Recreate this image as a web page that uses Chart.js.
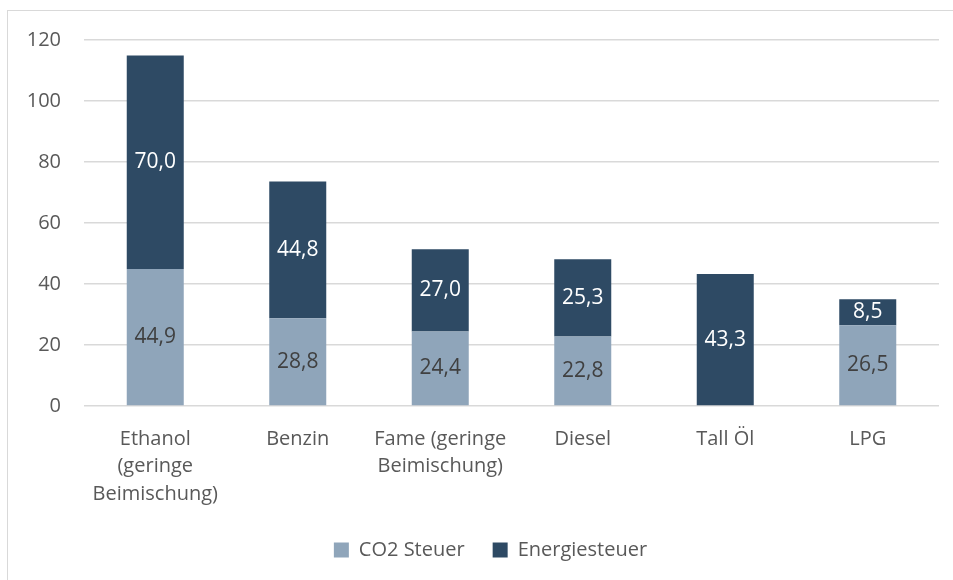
<!DOCTYPE html>
<html>
<head>
<meta charset="utf-8">
<script src="https://cdn.jsdelivr.net/npm/chart.js@4/dist/chart.umd.min.js"></script>
<style>
  html, body { margin: 0; padding: 0; background: #fff; overflow: hidden; }
  #frame { position: absolute; left: 7px; top: 10px; width: 980px; height: 620px; border: 1px solid #d9d9d9; }
  #wrap { position: absolute; left: 0; top: 0; width: 953px; height: 580px; }
</style>
</head>
<body>
<div id="frame"></div>
<div id="wrap"><canvas id="chart"></canvas></div>
<script>
const categories = [
    ['Ethanol', '(geringe', 'Beimischung)'],
    'Benzin',
    ['Fame (geringe', 'Beimischung)'],
    'Diesel',
    'Tall Öl',
    'LPG'
];
const co2Steuer = [44.9, 28.8, 24.4, 22.8, null, 26.5];
const energieSteuer = [70.0, 44.8, 27.0, 25.3, 43.3, 8.5];
const yTicks = [0, 20, 40, 60, 80, 100, 120];

const FONT = '"Open Sans", sans-serif';

// draws the value in the middle of each bar segment
const barLabels = {
    id: 'barLabels',
    afterDatasetsDraw(chart) {
        const ctx = chart.ctx;
        ctx.save();
        ctx.font = '21px ' + FONT;
        ctx.textAlign = 'center';
        ctx.textBaseline = 'middle';
        chart.data.datasets.forEach((ds, i) => {
            const meta = chart.getDatasetMeta(i);
            meta.data.forEach((bar, j) => {
                const v = ds.data[j];
                if (v == null || v <= 0) return;
                ctx.fillStyle = ds.labelColor;
                ctx.fillText(v.toFixed(1).replace('.', ','), bar.x, (bar.y + bar.base) / 2);
            });
        });
        ctx.restore();
    }
};

// the legend sits a bit right of the canvas centre in the original
const legendShift = {
    id: 'legendShift',
    afterLayout(chart) {
        if (!chart.legend) return;
        chart.legend.left += 21;
        chart.legend.right += 21;
    }
};

new Chart(document.getElementById('chart'), {
    type: 'bar',
    data: {
        labels: categories,
        datasets: [{
            label: 'CO2 Steuer',
            data: co2Steuer,
            backgroundColor: '#8fa5ba',
            labelColor: '#404040'
        }, {
            label: 'Energiesteuer',
            data: energieSteuer,
            backgroundColor: '#2e4a64',
            labelColor: '#ffffff'
        }]
    },
    options: {
        responsive: true,
        maintainAspectRatio: false,
        animation: false,
        categoryPercentage: 1,
        barPercentage: 0.4,
        layout: { padding: { left: 0, right: 14, top: 40, bottom: 10 } },
        plugins: {
            tooltip: { enabled: false },
            legend: {
                position: 'bottom',
                labels: {
                    boxWidth: 15,
                    boxHeight: 15,
                    padding: 28,
                    color: '#595959',
                    font: { family: FONT, size: 20 }
                }
            }
        },
        scales: {
            x: {
                stacked: true,
                grid: { display: false },
                border: { display: false },
                ticks: {
                    color: '#595959',
                    padding: 11,
                    maxRotation: 0,
                    autoSkip: false,
                    font: { family: FONT, size: 20, lineHeight: 1.38 }
                },
                afterFit(scale) { scale.height = 106; }
            },
            y: {
                stacked: true,
                min: 0,
                max: 120,
                afterBuildTicks(scale) { scale.ticks = yTicks.map(v => ({ value: v })); },
                grid: { color: '#d9d9d9', lineWidth: 1.5, drawTicks: false },
                border: { display: false },
                ticks: {
                    color: '#595959',
                    padding: 23,
                    font: { family: FONT, size: 20 }
                },
                afterFit(scale) { scale.width = 84; }
            }
        }
    },
    plugins: [barLabels, legendShift]
});
</script>
</body>
</html>
